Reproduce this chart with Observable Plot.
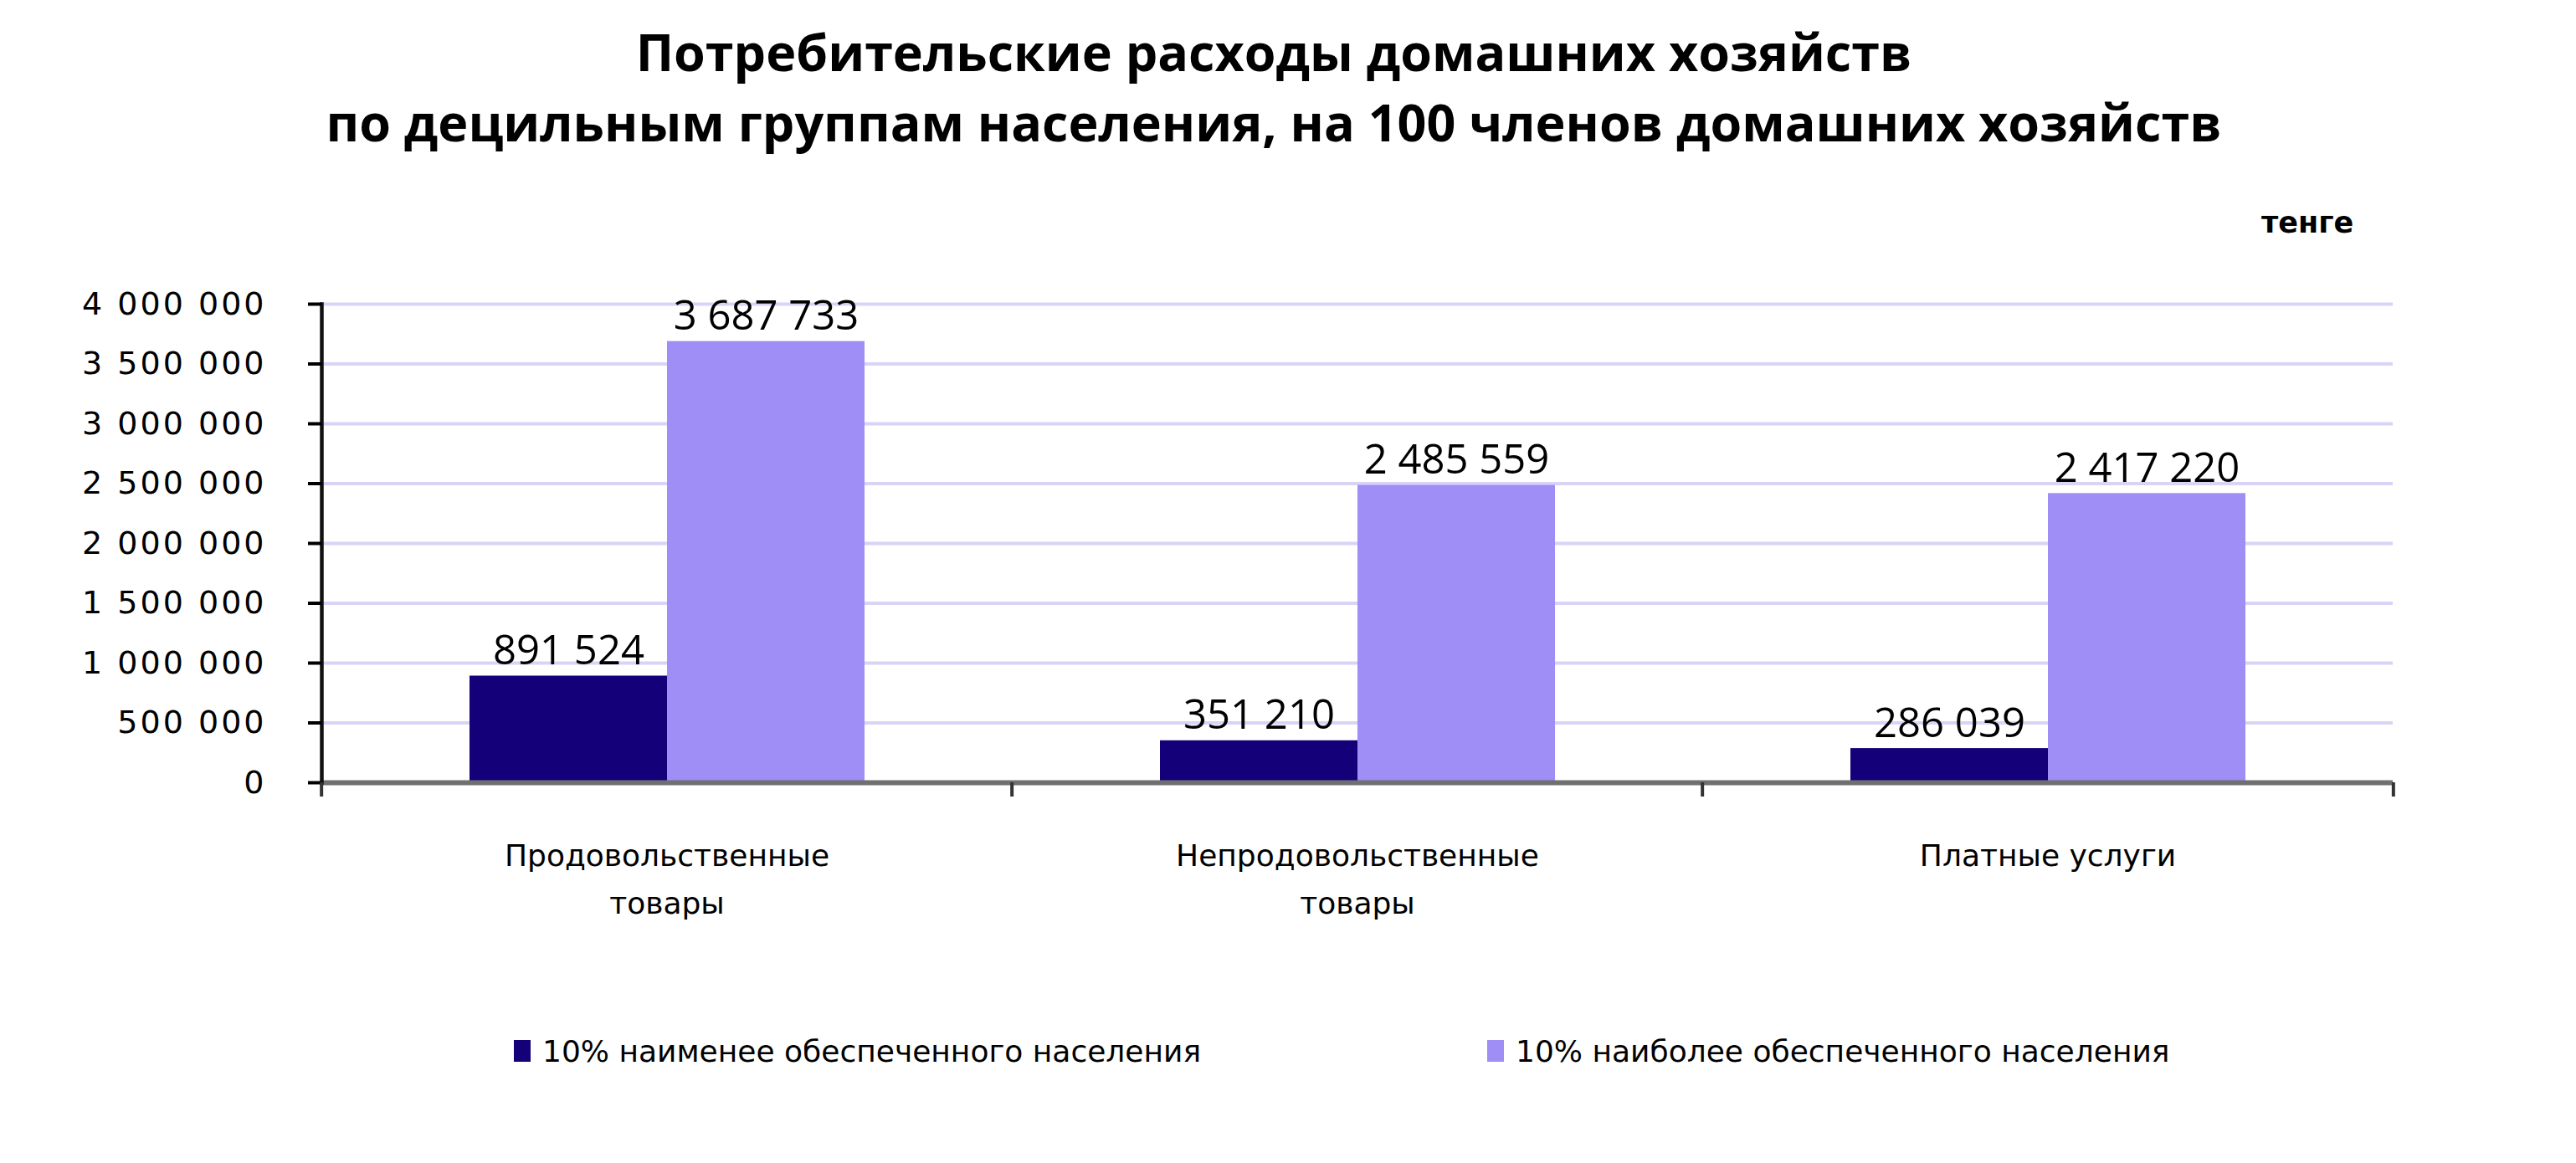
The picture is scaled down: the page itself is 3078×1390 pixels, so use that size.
<!DOCTYPE html>
<html>
<head>
<meta charset="utf-8">
<script src="https://cdn.jsdelivr.net/npm/d3@7"></script>
<script src="https://cdn.jsdelivr.net/npm/@observablehq/plot@0.6"></script>
<style>
  html, body { margin: 0; padding: 0; background: #fff; }
  body { width: 3078px; height: 1390px; position: relative; overflow: hidden; }
  #title { position: absolute; left: 0; top: 20px; width: 3044px; text-align: center;
    font-family: "Open Sans", sans-serif; font-weight: 700; font-size: 61px; line-height: 84px; color: #000; }
  #unit { position: absolute; left: 2702px; top: 244px; font-family: "DejaVu Sans", sans-serif;
    font-weight: 700; font-size: 35px; line-height: 44px; color: #000; }
  #chart { position: absolute; left: 0; top: 290px; }
  #legend { position: absolute; left: 0; top: 1236px; width: 3078px; height: 40px; }
  .item { position: absolute; top: 0; height: 40px; display: flex; align-items: center;
    font-family: "DejaVu Sans", sans-serif; font-size: 36px; color: #000; white-space: nowrap; }
  .sw { width: 20px; height: 26px; margin-right: 14px; }
  g[aria-label="y-axis tick label"] text { letter-spacing: 3px; }
</style>
</head>
<body>
<div id="title">Потребительские расходы домашних хозяйств<br>по децильным группам населения, на 100 членов домашних хозяйств</div>
<div id="unit">тенге</div>
<div id="chart"></div>
<div id="legend"></div>
<script>
const categories = ["Продовольственные товары", "Непродовольственные товары", "Платные услуги"];
const categoryLabels = ["Продовольственные\nтовары", "Непродовольственные\nтовары", "Платные услуги"];
const seriesNames = ["10% наименее обеспеченного населения", "10% наиболее обеспеченного населения"];
const lowValues = [891524, 351210, 286039];
const highValues = [3687733, 2485559, 2417220];
const yTicks = [0, 500000, 1000000, 1500000, 2000000, 2500000, 3000000, 3500000, 4000000];
const seriesColors = ["#140078", "#9e8ef5"];

const data = categories.flatMap((c, i) => [
  {category: c, series: seriesNames[0], value: lowValues[i]},
  {category: c, series: seriesNames[1], value: highValues[i]}
]);

const fmt = d3.formatLocale({thousands: "\u00a0", grouping: [3], decimal: ",", currency: ["", ""]}).format(",d");

const W = 3078, H = 1100, mL = 383, mR = 218, mT = 73, mB = 455;
const step = (W - mL - mR) / categories.length;

const chart = Plot.plot({
  width: W, height: H,
  marginLeft: mL, marginRight: mR, marginTop: mT, marginBottom: mB,
  fx: {domain: categories, paddingInner: 0, paddingOuter: 0, label: null},
  x: {domain: seriesNames, paddingInner: 0, paddingOuter: 0.745, axis: null},
  y: {domain: [0, 4000000], label: null},
  color: {domain: seriesNames, range: seriesColors},
  marks: [
    Plot.gridY({ticks: yTicks, stroke: "#d9d3f7", strokeOpacity: 1, strokeWidth: 4}),
    Plot.barY(data, {fx: "category", x: "series", y: "value", fill: "series", inset: 0}),
    Plot.text(data, {fx: "category", x: "series", y: "value", text: d => fmt(d.value),
      lineAnchor: "bottom", dy: -14, fontFamily: "Open Sans", fontSize: 49, fill: "#000"}),
    Plot.ruleY([0], {stroke: "#707070", strokeWidth: 6}),
    Plot.frame({anchor: "left", facetAnchor: "left", stroke: "#111", strokeWidth: 4.5}),
    Plot.axisY({ticks: yTicks, tickSize: 16, tickPadding: 50, tickFormat: fmt, label: null,
      fontFamily: "DejaVu Sans", fontSize: 38, color: "#000", strokeWidth: 4}),
    Plot.axisFx({anchor: "bottom", tickSize: 17, tickFormat: () => "", dx: -step / 2, label: null, color: "#333", strokeWidth: 4}),
    Plot.axisFx({anchor: "bottom", ticks: [categories[categories.length - 1]], tickSize: 17, tickFormat: () => "", dx: step / 2, label: null, color: "#333", strokeWidth: 4}),
    Plot.axisFx({anchor: "bottom", tickSize: 0, tickPadding: 59, tickFormat: d => categoryLabels[categories.indexOf(d)], label: null,
      fontFamily: "DejaVu Sans", fontSize: 36, lineHeight: 1.58, color: "#000"})
  ]
});
document.getElementById("chart").appendChild(chart);

const legendLefts = [614, 1777];
const legend = document.getElementById("legend");
seriesNames.forEach((s, i) => {
  const item = document.createElement("div");
  item.className = "item";
  item.style.left = legendLefts[i] + "px";
  const sw = document.createElement("div");
  sw.className = "sw";
  sw.style.background = seriesColors[i];
  const t = document.createElement("span");
  t.textContent = s;
  item.appendChild(sw);
  item.appendChild(t);
  legend.appendChild(item);
});
</script>
</body>
</html>
